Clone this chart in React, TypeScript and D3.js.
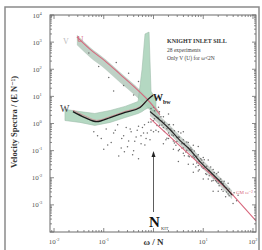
import React from 'react';
import * as d3 from 'd3';

const xTickExps = [-2, -1, 1, 2];
const yTickExps = [4, 3, 2, 1, 0, -1, -2, -3];

// U spectrum (pink) and its band
const uOmega = [0.0288, 0.0525, 0.107, 0.214, 0.427, 0.85, 1.35];
const uSpec = [1550, 550, 200, 65, 21, 6.0, 2.1];
const uUpper = [1860, 661, 240, 78, 25.7, 7.2, 2.6];
const uLower = [776, 275, 100, 32, 10.7, 3.0, 1.07];

// W spectrum (black) and its band with the peak near N
const wOmega = [0.024, 0.0417, 0.0724, 0.135, 0.269, 0.537, 0.776, 0.977];
const wSpec = [2.75, 1.66, 1.17, 1.66, 2.57, 3.89, 7.76, 11.0];
const wModelSpec = [3.1, 1.9, 1.3, 1.8, 2.8, 4.2, 8.2, 11.5];
const wBandOmega = [0.0166, 0.0331, 0.066, 0.135, 0.269, 0.49, 0.589, 0.676, 0.813, 0.891, 1.12];
const wBandUpper = [3.31, 2.75, 2.34, 3.02, 4.27, 6.46, 100, 2000, 2340, 15.5, 7.76];
const wBandLower = [1.29, 1.1, 0.85, 1.1, 1.66, 2.34, 2.75, 3.31, 3.89, 3.31, 2.57];

// Mean spectrum above N
const tailOmega = [0.85, 2.14, 3.39, 5.37, 8.5, 13.8, 22.9, 38];
const tailSpec = [2.75, 0.6, 0.24, 0.11, 0.04, 0.0166, 0.0066, 0.00234];
const tailUpper = [4.0, 0.87, 0.35, 0.16, 0.058, 0.024, 0.0096, 0.0034];
const tailLower = [1.9, 0.41, 0.165, 0.076, 0.0275, 0.0114, 0.0045, 0.0016];

// Model line (pink)
const modelOmega = [0.85, 36.1, 115];
const modelSpec = [1.55, 0.00275, 0.000257];

// Individual spectral estimates
const scatterPoints: [number, number][] = [
  [0.063, 0.5], [0.089, 0.28], [0.112, 0.63], [0.141, 0.2], [0.158, 0.447], [0.19, 0.89],
  [0.224, 0.126], [0.251, 0.355], [0.282, 0.708], [0.316, 0.224], [0.355, 0.5], [0.398, 0.1],
  [0.447, 0.316], [0.5, 0.794], [0.562, 0.178], [0.631, 0.447], [0.708, 0.282], [0.794, 1.12],
  [0.891, 0.562], [0.5, 0.05], [0.2, 0.063], [0.1, 0.112],
  [0.075, 0.35], [0.12, 0.16], [0.17, 0.56], [0.23, 0.28], [0.3, 0.14], [0.34, 0.63],
  [0.42, 0.22], [0.47, 0.56], [0.56, 0.35], [0.6, 0.71], [0.67, 0.16], [0.75, 0.45],
  [0.85, 0.25], [0.38, 0.071], [0.26, 0.09], [0.66, 0.89],
  [0.079, 126], [0.126, 50], [0.178, 178], [0.251, 25], [0.316, 71], [0.398, 11.2],
  [0.5, 35.5], [0.05, 398], [0.158, 15.8],
  [1.0, 3.98], [1.0, 1.26], [1.0, 0.5],
  [1.26, 1.58], [1.26, 0.5], [1.26, 3.98],
  [1.58, 0.708], [1.58, 1.78], [1.58, 0.178],
  [2.0, 0.891], [2.0, 0.282], [2.0, 2.24], [2.0, 0.447],
  [2.51, 0.224], [2.51, 0.891], [2.51, 0.355], [2.51, 0.112],
  [3.16, 0.316], [3.16, 0.1], [3.16, 0.5], [3.16, 0.0398],
  [3.98, 0.126], [3.98, 0.251], [3.98, 0.0794], [3.98, 0.5],
  [5.01, 0.126], [5.01, 0.0316], [5.01, 0.2], [5.01, 0.063],
  [6.31, 0.063], [6.31, 0.158], [6.31, 0.0316], [6.31, 0.0158],
  [7.94, 0.0708], [7.94, 0.0282], [7.94, 0.141], [7.94, 0.0178],
  [10, 0.0224], [10, 0.0562], [10, 0.0089], [10, 0.0355],
  [12.6, 0.0178], [12.6, 0.0089], [12.6, 0.0447],
  [15.8, 0.02], [15.8, 0.0079], [15.8, 0.00316],
  [20, 0.0063], [20, 0.0158], [20, 0.00316],
  [25.1, 0.0063], [25.1, 0.00316],
  [31.6, 0.00251], [31.6, 0.0063],
  [39.8, 0.00224], [39.8, 0.00112], [50.1, 0.00224],
  [1.12, 0.562], [1.41, 1.78], [1.78, 0.251], [2.24, 0.631], [2.82, 0.158], [3.55, 0.447],
  [4.47, 0.0891], [5.62, 0.126], [7.08, 0.0251], [8.91, 0.05], [11.2, 0.0141], [14.1, 0.0251],
  [17.8, 0.0079], [22.4, 0.0089], [28.2, 0.002],
  [0.891, 3.57], [0.891, 1.13], [1.047, 1.49], [1.047, 2.97], [1.175, 1.7], [1.175, 0.851],
  [1.318, 0.865], [1.318, 2.74], [1.479, 1.24], [1.479, 0.879], [1.66, 0.502], [1.66, 1.12],
  [1.862, 0.643], [1.862, 0.287], [2.089, 0.923], [2.089, 0.367], [2.344, 0.373], [2.344, 0.527],
  [2.63, 0.536], [2.63, 0.19], [2.951, 0.217], [2.951, 0.306], [3.311, 0.311], [3.311, 0.11],
  [3.715, 0.178], [3.715, 0.126], [4.169, 0.181], [4.169, 0.0641], [4.677, 0.103], [4.677, 0.206],
  [5.248, 0.105], [5.248, 0.059], [5.888, 0.06], [5.888, 0.107], [6.607, 0.0966], [6.607, 0.0543],
  [7.413, 0.0348], [7.413, 0.0619], [8.318, 0.0397], [8.318, 0.0199], [9.333, 0.0453], [9.333, 0.0255],
  [10.47, 0.0231], [10.47, 0.046], [11.75, 0.0263], [11.75, 0.0132], [13.18, 0.0119], [13.18, 0.0189],
  [14.79, 0.0136], [14.79, 0.00766], [16.6, 0.0155], [16.6, 0.0098], [18.62, 0.00705], [18.62, 0.0141],
  [20.89, 0.00804], [20.89, 0.00507], [23.44, 0.00365], [23.44, 0.00728], [26.3, 0.00467], [26.3, 0.0074],
  [29.51, 0.00299], [29.51, 0.00423], [33.11, 0.00383], [33.11, 0.00215], [37.15, 0.00245],
  [41.69, 0.0028], [46.77, 0.00143],
];

const PINK = '#d8677d';
const SERIF = '"Liberation Serif", "DejaVu Serif", serif';

export default function App() {
  const L = 50, R = 256, T = 15, B = 232;
  const x = d3.scaleLog().domain([0.0083, 115]).range([L, R]);
  const y = d3.scaleLog().domain([1e-4, 1e4]).range([B, T]);

  const line = d3.line<[number, number]>().x(d => x(d[0])).y(d => y(d[1])).curve(d3.curveMonotoneX);
  const straight = d3.line<[number, number]>().x(d => x(d[0])).y(d => y(d[1]));
  const area = d3
    .area<[number, number, number]>()
    .x(d => x(d[0]))
    .y0(d => y(d[2]))
    .y1(d => y(d[1]))
    .curve(d3.curveMonotoneX);
  const areaLin = d3
    .area<[number, number, number]>()
    .x(d => x(d[0]))
    .y0(d => y(d[2]))
    .y1(d => y(d[1]));

  const zip = (a: number[], b: number[]) => a.map((v, i) => [v, b[i]] as [number, number]);
  const zip3 = (a: number[], b: number[], c: number[]) =>
    a.map((v, i) => [v, b[i], c[i]] as [number, number, number]);

  const yMinor: number[] = [];
  for (let e = -4; e < 4; e++) for (let m = 1; m < 10; m++) yMinor.push(m * Math.pow(10, e));
  yMinor.push(1e4);
  const xMinor: number[] = [];
  for (let e = -3; e < 3; e++)
    for (let m = 1; m < 10; m++) {
      const v = m * Math.pow(10, e);
      if (v >= 0.0083 && v <= 115) xMinor.push(v);
    }
  const isMajor = (v: number) => Math.abs(Math.log10(v) - Math.round(Math.log10(v))) < 1e-6;

  const axisColor = '#6b6b6b';

  return (
    <svg
      width={262}
      height={250}
      style={{ position: 'absolute', left: 0, top: 0, background: '#fff' }}
      fontFamily={SERIF}
    >
      <rect x={0} y={0} width={262} height={250} fill="#fff" />
      <rect x={5} y={7} width={254} height={250} fill="none" stroke="#8a8a8a" strokeWidth={1.5} />

      {/* bands */}
      <path d={areaLin(zip3(tailOmega, tailUpper, tailLower)) || ''} fill="#b3bdb7" opacity={0.7} />
      <path d={area(zip3(uOmega, uUpper, uLower)) || ''} fill="#a9c2b3" opacity={0.75} />
      <path
        d={areaLin(zip3(wBandOmega, wBandUpper, wBandLower)) || ''}
        fill="#a8d2b8"
        stroke="#8fb19d"
        strokeWidth={0.6}
        opacity={0.85}
      />

      {/* scatter */}
      <g fill="#6a6a6a">
        {scatterPoints.map((p, i) => (
          <circle key={i} cx={x(p[0])} cy={y(p[1])} r={0.75} />
        ))}
      </g>

      {/* lines */}
      <path d={line(zip(uOmega, uSpec)) || ''} fill="none" stroke={PINK} strokeWidth={1.1} />
      <path d={line(zip(wOmega, wModelSpec)) || ''} fill="none" stroke={PINK} strokeWidth={0.8} opacity={0.8} />
      <path d={straight(zip(modelOmega, modelSpec)) || ''} fill="none" stroke={PINK} strokeWidth={1.1} />
      <path d={line(zip(wOmega, wSpec)) || ''} fill="none" stroke="#1a1a1a" strokeWidth={1.3} />
      <path d={line(zip(tailOmega, tailSpec)) || ''} fill="none" stroke="#2a2a2a" strokeWidth={1.2} />

      {/* axes box */}
      <rect x={L} y={T} width={R - L} height={B - T} fill="none" stroke={axisColor} strokeWidth={1} />
      <g stroke={axisColor} strokeWidth={0.8}>
        {yMinor.map((v, i) => {
          const len = isMajor(v) ? 4 : 2;
          return (
            <g key={i}>
              <line x1={L} x2={L + len} y1={y(v)} y2={y(v)} />
              <line x1={R} x2={R - len} y1={y(v)} y2={y(v)} />
            </g>
          );
        })}
        {xMinor.map((v, i) => {
          const len = isMajor(v) ? 4 : 2;
          return (
            <g key={i}>
              <line x1={x(v)} x2={x(v)} y1={B} y2={B - len} />
              <line x1={x(v)} x2={x(v)} y1={T} y2={T + len} />
            </g>
          );
        })}
      </g>

      {/* y tick labels */}
      <g fill="#555" fontSize={7}>
        {yTickExps.map(e => (
          <text key={e} x={37} y={y(Math.pow(10, e)) + 2.5} textAnchor="middle">
            10
            <tspan fontSize={4.5} dy={-3}>
              {e}
            </tspan>
          </text>
        ))}
      </g>
      {/* x tick labels */}
      <g fill="#555" fontSize={7}>
        {xTickExps.map(e => (
          <text key={e} x={x(Math.pow(10, e))} y={244} textAnchor="middle">
            10
            <tspan fontSize={4.5} dy={-3}>
              {e}
            </tspan>
          </text>
        ))}
      </g>
      <text x={x(1)} y={245} textAnchor="middle" fontSize={9} fontWeight="bold" fill="#333">
        ω / N
      </text>

      <text
        transform="translate(17,122) rotate(-90)"
        textAnchor="middle"
        fontSize={8.5}
        fontWeight="bold"
        fill="#333"
      >
        Velocity Spectra / (E N⁻¹)
      </text>

      {/* curve labels */}
      <text x={63} y={44} fontSize={8} fill="#bbb">V</text>
      <text x={77} y={42} fontSize={9} fill={PINK}>U</text>
      <text x={60} y={112} fontSize={10} fill="#444">W</text>
      <text x={153} y={101} fontSize={10} fontWeight="bold" fill="#222">
        W<tspan fontSize={6} dy={2.5}>bw</tspan>
      </text>
      <text x={236} y={194} fontSize={5} fill={PINK}>GM ω⁻²</text>

      {/* info text */}
      <text x={167} y={43} fontSize={6} fontWeight="bold" fill="#333">KNIGHT INLET SILL</text>
      <text x={167} y={52} fontSize={5.5} fill="#444">28 experiments</text>
      <text x={167} y={60} fontSize={5.5} fill="#444">Only V (U) for ω&lt;2N</text>

      {/* N arrow */}
      <line x1={x(1)} x2={x(1)} y1={212} y2={154} stroke="#333" strokeWidth={0.8} />
      <path d={`M${x(1) - 2},${157} L${x(1)},${151} L${x(1) + 2},${157} Z`} fill="#222" />
      <text x={x(1) + 1} y={227} fontSize={15} fontWeight="bold" textAnchor="middle" fill="#111">
        N
      </text>
      <text x={161} y={230} fontSize={4.5} fill="#444">KIT</text>
    </svg>
  );
}
